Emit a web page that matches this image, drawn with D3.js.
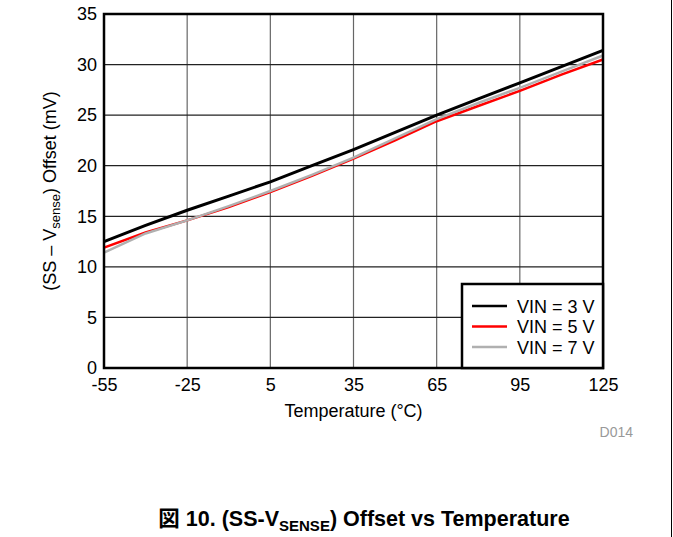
<!DOCTYPE html>
<html>
<head>
<meta charset="utf-8">
<script src="https://cdn.jsdelivr.net/npm/d3@7"></script>
<style>
  body { margin: 0; background: #fff; }
  svg { display: block; font-family: "Liberation Sans", Arial, "Noto Sans CJK JP", sans-serif; }
</style>
</head>
<body>
<div id="plot"></div>
<script>
// temperature points (°C)
var temps = [-55, -40, -25, -10, 5, 20, 35, 50, 65, 80, 95, 110, 125];
// offset in mV
var vin3 = [12.5, 14.1, 15.6, 17.0, 18.4, 20.0, 21.6, 23.3, 25.0, 26.6, 28.2, 29.8, 31.4];
var vin5 = [11.9, 13.4, 14.6, 15.9, 17.4, 19.0, 20.7, 22.5, 24.4, 25.9, 27.4, 29.0, 30.5];
var vin7 = [11.4, 13.3, 14.6, 16.0, 17.5, 19.1, 20.8, 22.7, 24.6, 26.2, 27.7, 29.3, 30.9];
var seriesNames = ["VIN = 3 V", "VIN = 5 V", "VIN = 7 V"];
var seriesColors = ["#000000", "#ff0000", "#b0b0b0"];
var xTicks = [-55, -25, 5, 35, 65, 95, 125];
var yTicks = [0, 5, 10, 15, 20, 25, 30, 35];

var width = 673, height = 537;
var mLeft = 104, mRight = 603, mTop = 14, mBottom = 368;

var svg = d3.select("#plot").append("svg")
  .attr("width", width).attr("height", height);

var x = d3.scaleLinear().domain([-55, 125]).range([mLeft, mRight]);
var y = d3.scaleLinear().domain([0, 35]).range([mBottom, mTop]);

// grid
svg.append("g").selectAll("line").data(xTicks.slice(1, -1)).enter().append("line")
  .attr("x1", d => x(d)).attr("x2", d => x(d))
  .attr("y1", mTop).attr("y2", mBottom)
  .attr("stroke", "#666").attr("stroke-width", 1.2);
svg.append("g").selectAll("line").data(yTicks.slice(1, -1)).enter().append("line")
  .attr("x1", mLeft).attr("x2", mRight)
  .attr("y1", d => y(d)).attr("y2", d => y(d))
  .attr("stroke", "#222").attr("stroke-width", 1.2);

// axes: labels only
var xaxis = svg.append("g").attr("transform", "translate(0," + mBottom + ")")
  .call(d3.axisBottom(x).tickValues(xTicks).tickFormat(d => String(d)).tickSize(0).tickPadding(10));
var yaxis = svg.append("g").attr("transform", "translate(" + mLeft + ",0)")
  .call(d3.axisLeft(y).tickValues(yTicks).tickFormat(d => String(d)).tickSize(0).tickPadding(7));
[xaxis, yaxis].forEach(function(a) {
  a.select(".domain").remove();
  a.selectAll("text").attr("font-size", "18px").attr("fill", "#000")
    .attr("font-family", "Liberation Sans, Arial, sans-serif");
});

// lines: red, then gray, black on top
var series = [vin3, vin5, vin7];
var widths = [3, 2.5, 2.5];
var line = d3.line().x((d, i) => x(temps[i])).y(d => y(d));
[1, 2, 0].forEach(function(k) {
  svg.append("path").datum(series[k])
    .attr("d", line)
    .attr("fill", "none")
    .attr("stroke", seriesColors[k])
    .attr("stroke-width", widths[k]);
});

// plot border
svg.append("rect")
  .attr("x", mLeft).attr("y", mTop)
  .attr("width", mRight - mLeft).attr("height", mBottom - mTop)
  .attr("fill", "none").attr("stroke", "#000").attr("stroke-width", 2.5);

// legend
var lg = svg.append("g");
lg.append("rect")
  .attr("x", 462).attr("y", 284).attr("width", mRight - 462).attr("height", mBottom - 284)
  .attr("fill", "#fff").attr("stroke", "#000").attr("stroke-width", 2.5);
seriesNames.forEach(function(n, i) {
  var yy = 306 + i * 20.5;
  lg.append("line").attr("x1", 472).attr("x2", 507).attr("y1", yy).attr("y2", yy)
    .attr("stroke", seriesColors[i]).attr("stroke-width", 2.5);
  lg.append("text").attr("x", 517).attr("y", yy + 6.5)
    .attr("font-size", "18px").text(n);
});

// axis titles
svg.append("text").attr("x", (mLeft + mRight) / 2).attr("y", 417)
  .attr("text-anchor", "middle").attr("font-size", "18px")
  .text("Temperature (\u00B0C)");

var yt = svg.append("text")
  .attr("transform", "translate(56," + ((mTop + mBottom) / 2) + ") rotate(-90)")
  .attr("text-anchor", "middle").attr("font-size", "18px");
yt.append("tspan").text("(SS \u2013 V");
yt.append("tspan").attr("font-size", "13px").attr("dy", 4).text("sense");
yt.append("tspan").attr("dy", -4).text(") Offset (mV)");

svg.append("text").attr("x", 633).attr("y", 437)
  .attr("text-anchor", "end").attr("font-size", "14px").attr("fill", "#999")
  .text("D014");

// caption
var cap = svg.append("text").attr("x", 364).attr("y", 526)
  .attr("text-anchor", "middle").attr("font-size", "21.5px").attr("font-weight", "bold");
cap.append("tspan").text("\u56F3 10. (SS-V");
cap.append("tspan").attr("font-size", "15px").attr("dy", 5).text("SENSE");
cap.append("tspan").attr("dy", -5).text(") Offset vs Temperature");

// page rule on the right
svg.append("line").attr("x1", 671.5).attr("x2", 671.5).attr("y1", 0).attr("y2", height)
  .attr("stroke", "#000").attr("stroke-width", 1);
</script>
</body>
</html>
